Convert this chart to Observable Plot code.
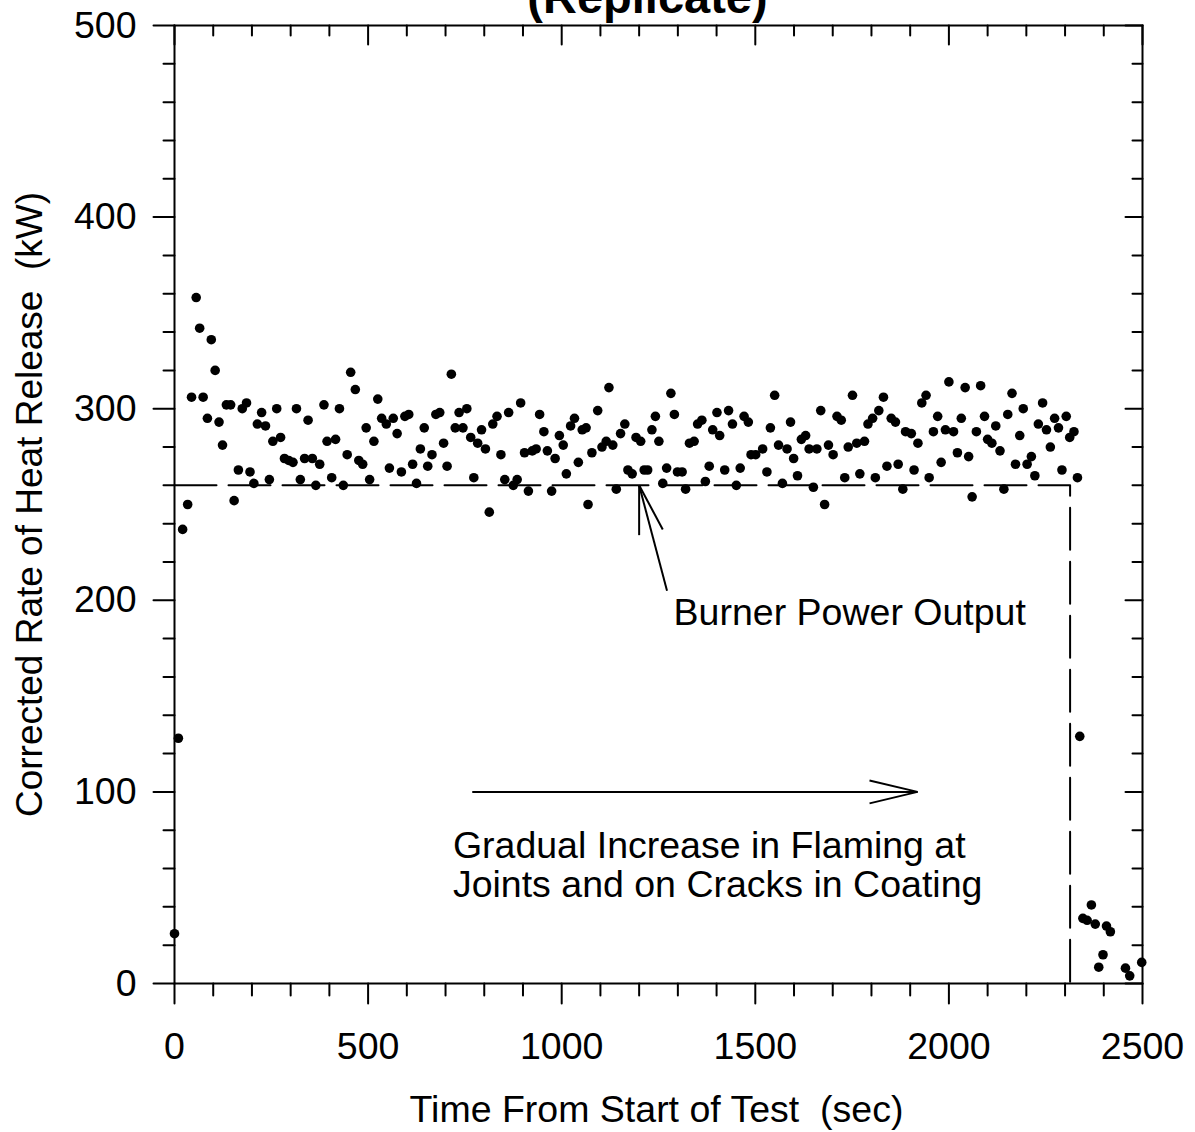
<!DOCTYPE html>
<html><head><meta charset="utf-8">
<script src="https://cdn.jsdelivr.net/npm/d3@7"></script>
<script src="https://cdn.jsdelivr.net/npm/@observablehq/plot@0.6"></script>
<style>
body{margin:0;background:#fff}
svg text{white-space:pre}
</style>
</head><body><div id="chart"></div>
<script>
// Time from start of test (s)
const times = [0,10,21,34,44,56,65,74,85,95,105,115,124,134,145,154,165,175,186,195,205,214,225,235,245,254,264,274,284,295,306,315,325,336,345,356,365,375,386,394,406,416,426,436,446,455,467,476,486,495,504,515,525,535,547,555,565,575,586,595,605,615,625,635,645,654,665,675,685,695,704,715,725,735,745,755,765,773,783,793,803,813,822,833,843,853,863,875,885,894,904,914,924,934,943,954,963,974,983,994,1004,1012,1023,1033,1043,1053,1063,1068,1078,
1093,1104,1115,1122,1132,1141,1152,1163,1171,1182,1192,1204,1213,1222,1233,1242,1251,1261,1271,1282,1291,1299,1311,1320,1330,1342,1351,1362,1371,1381,1390,1401,1408,1421,1431,1441,1451,1461,1471,1482,1489,1501,1519,1530,1539,1550,1560,1570,1582,1591,1599,1609,1619,1630,1639,1650,1659,1669,1679,1689,1701,1711,1722,1731,1740,1751,1762,1770,1782,1791,1803,1810,1819,1831,1840,1851,1862,1869,1881,1888,1903,1910,1920,1930,1941,1949,1960,1971,1980,1991,2000,2012,2022,2032,2042,2051,2060,2071,2082,2092,2100,2111,2121,2132,2142,2152,2163,2172,2183,2192,2202,2213,2222,2231,2242,2252,2262,2273,2283,2292,2303,2312,2323,2332,
2338,2346,2357,2368,2378,2387,2398,2407,2417,2456,2467,2498];
// Corrected rate of heat release (kW)
const hrr = [26,128,237,250,306,358,342,306,295,336,320,293,281,302,302,252,268,300,303,267,261,292,298,291,263,283,300,285,274,273,272,300,263,274,294,274,260,271,302,283,264,284,300,260,276,319,310,273,271,290,263,283,305,295,292,269,295,287,267,296,297,271,261,279,290,270,276,297,298,282,270,318,290,298,290,300,285,264,282,289,279,246,292,296,276,263,298,260,263,303,277,257,278,279,297,288,278,257,274,286,281,266,291,295,272,289,290,250,277,
299,280,283,311,281,258,287,292,268,266,285,283,268,268,289,296,283,261,269,308,297,267,267,258,282,283,292,294,262,270,289,298,286,268,299,292,260,269,296,293,276,276,279,267,290,307,281,261,279,293,274,265,284,286,279,259,279,299,250,281,276,296,294,264,280,307,282,266,283,292,295,264,299,306,270,295,293,271,258,288,287,268,282,303,307,264,288,296,272,289,314,288,277,295,311,275,254,288,312,296,284,282,291,278,258,297,308,271,286,300,271,275,265,292,303,289,280,295,290,268,296,285,288,264,
129,34,33,41,31,8.5,15,30,27,8,4,11];

// Burner power output (dashed line)
const burnerTimes = [0, 2313, 2313];
const burnerPower = [260, 260, 0];

// Axis ticks
const xMajor = [0, 500, 1000, 1500, 2000, 2500];
const xMinor = [100,200,300,400,600,700,800,900,1100,1200,1300,1400,1600,1700,1800,1900,2100,2200,2300,2400];
const yMajor = [0, 100, 200, 300, 400, 500];
const yMinor = [20,40,60,80,120,140,160,180,220,240,260,280,320,340,360,380,420,440,460,480];

// Texts
const titleText = "(Replicate)";
const xTitle = "Time From Start of Test  (sec)";
const yTitle = "Corrected Rate of Heat Release  (kW)";
const noteTexts = ["Burner Power Output", "Gradual Increase in Flaming at\nJoints and on Cracks in Coating"];
const noteT = [1289, 719];
const noteV = [187, 45];

// Annotation arrow segments (data units)
const segT1 = [1272, 1200, 1200, 769, 1919, 1919];
const segV1 = [205, 260, 260, 100, 100, 100];
const segT2 = [1200, 1200, 1261, 1919, 1795, 1795];
const segV2 = [260, 234, 237, 100, 106, 94];

const points = times.map((t, i) => ({t, v: hrr[i]}));
const burner = burnerTimes.map((t, i) => ({t, v: burnerPower[i]}));
const notes = noteTexts.map((text, i) => ({text, t: noteT[i], v: noteV[i]}));
const segs = segT1.map((t1, i) => ({t1, v1: segV1[i], t2: segT2[i], v2: segV2[i]}));

const tickShape = {draw(ctx, l) { ctx.moveTo(0, 0); ctx.lineTo(0, -l); }};
const tick = (values, dim, frameAnchor, rotate, length) =>
  Plot.vector(values, {[dim]: d => d, frameAnchor, rotate, length, anchor: "start", shape: tickShape, stroke: "black", strokeWidth: 2});

const chart = Plot.plot({
  width: 1195,
  height: 1132,
  marginLeft: 174,
  marginRight: 53,
  marginTop: 25,
  marginBottom: 149,
  style: {fontFamily: "'Liberation Sans', Arial, Helvetica, sans-serif", fontSize: "37px", background: "white", color: "black"},
  x: {domain: [0, 2500]},
  y: {domain: [0, 500]},
  marks: [
    Plot.line(burner, {x: "t", y: "v", stroke: "black", strokeWidth: 2, strokeDasharray: "42,12"}),
    Plot.link(segs, {x1: "t1", y1: "v1", x2: "t2", y2: "v2", stroke: "black", strokeWidth: 2}),
    Plot.dot(points, {x: "t", y: "v", r: 4.8, fill: "black"}),
    Plot.frame({stroke: "black", strokeWidth: 2}),
    tick(xMajor, "x", "bottom", 180, 20),
    tick(xMinor, "x", "bottom", 180, 12),
    tick(xMajor, "x", "top", 180, 19),
    tick(xMinor, "x", "top", 180, 10),
    tick(yMajor, "y", "left", -90, 21),
    tick(yMinor, "y", "left", -90, 11),
    tick(yMajor, "y", "right", -90, 17),
    tick(yMinor, "y", "right", -90, 10),
    Plot.axisX({ticks: xMajor, anchor: "bottom", tickSize: 0, tickPadding: 49, fontSize: 37.5, label: null, tickFormat: d => String(d)}),
    Plot.axisY({ticks: yMajor, anchor: "left", tickSize: 0, tickPadding: 38, fontSize: 37.5, label: null, tickFormat: d => String(d)}),
    Plot.text(notes, {x: "t", y: "v", text: "text", textAnchor: "start", lineAnchor: "bottom", lineHeight: 1.05, fontSize: 37.5, fill: "black"}),
    Plot.text([xTitle], {frameAnchor: "bottom", dy: 138, dx: -2, lineAnchor: "bottom", textAnchor: "middle", fontSize: 37.5, fill: "black"}),
    Plot.text([yTitle], {frameAnchor: "left", dx: -133, rotate: -90, lineAnchor: "bottom", textAnchor: "middle", fontSize: 37, fill: "black"}),
    Plot.text([titleText], {frameAnchor: "top", dx: -11, dy: -13, lineAnchor: "bottom", textAnchor: "middle", fontSize: 47, fontWeight: "bold", fill: "black"})
  ]
});
document.getElementById("chart").appendChild(chart);
</script>
</body></html>
